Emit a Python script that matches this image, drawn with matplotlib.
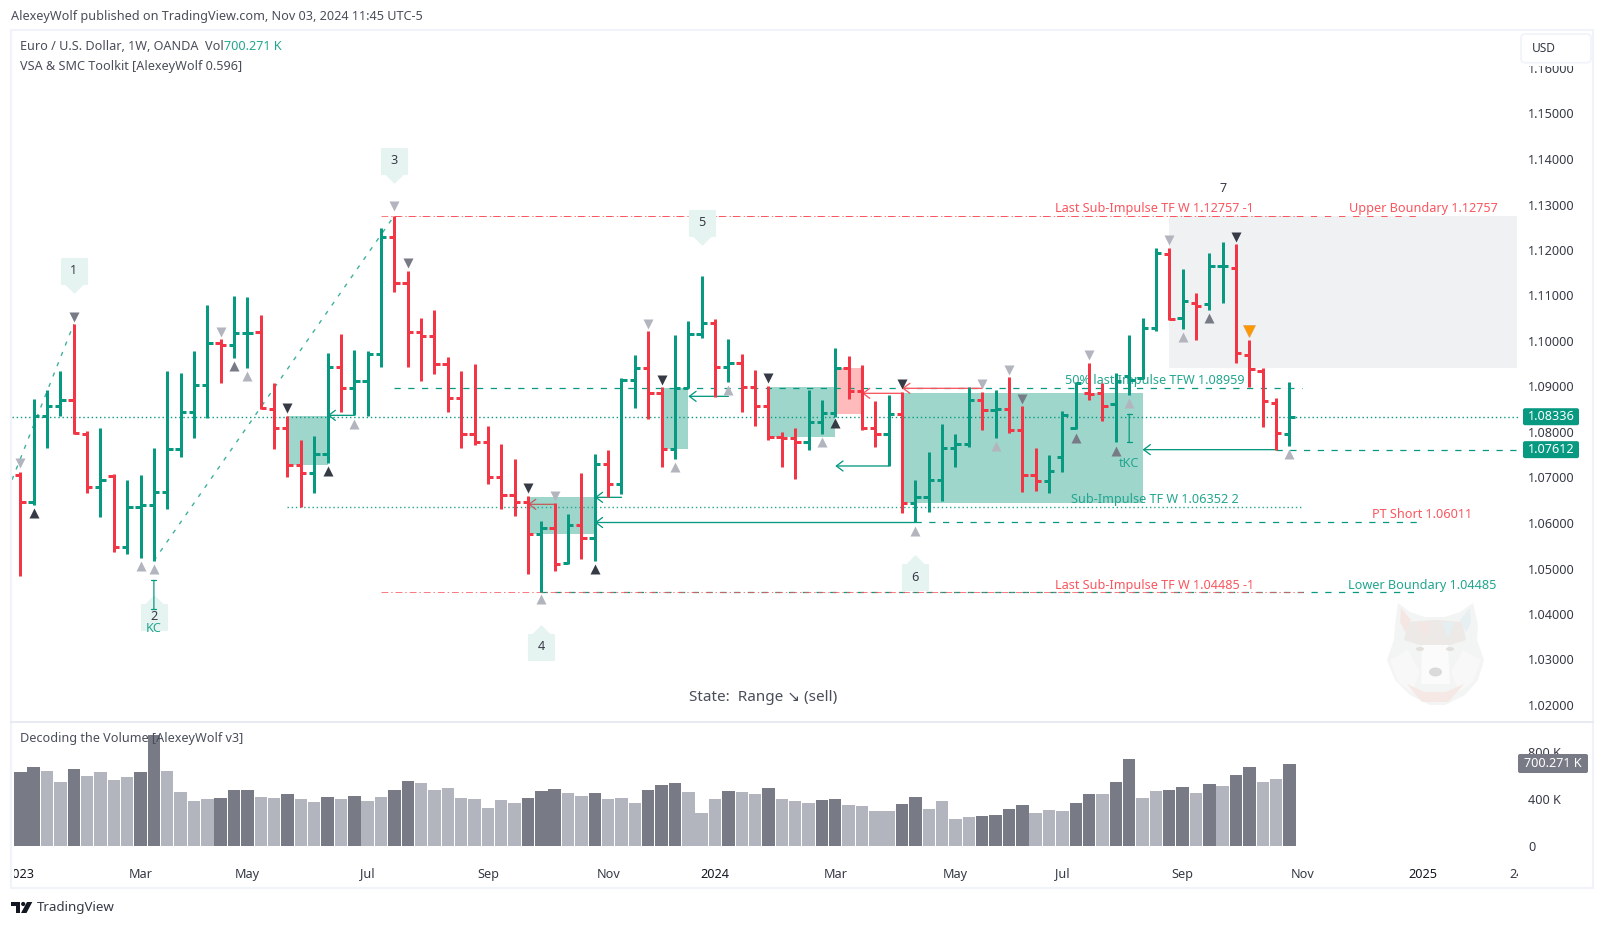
import matplotlib
matplotlib.use('Agg')
import matplotlib.pyplot as plt
from matplotlib.markers import MarkerStyle
from matplotlib.patches import Rectangle, FancyBboxPatch, Polygon, Ellipse, Circle
from matplotlib.path import Path
from matplotlib.transforms import Bbox

plt.rcParams['font.family'] = ['Noto Sans', 'DejaVu Sans']

W, H = 1605, 927
GREEN = '#089981'
RED = '#F23645'
SOFT_GREEN = '#22A68F'
SOFT_RED = '#F9565F'
DARK = '#363A45'
MID = '#787B86'
LIGHT = '#B2B5BE'
FONT = 9.1

# weekly EURUSD bars
opens = [1.07047, 1.06454, 1.08344, 1.08564, 1.08696, 1.07948, 1.06784, 1.07025, 1.05472, 1.06344,
         1.06388, 1.06674, 1.07619, 1.08432, 1.09025, 1.09948, 1.09904, 1.10168, 1.10190, 1.08498,
         1.08080, 1.07267, 1.07091, 1.07516, 1.09421, 1.08959, 1.09113, 1.09707, 1.12278, 1.11267,
         1.10191, 1.10103, 1.09487, 1.08740, 1.07949, 1.07773, 1.07004, 1.06608, 1.06454, 1.05751,
         1.05883, 1.05114, 1.05949, 1.05663, 1.07289, 1.06850, 1.09136, 1.09407, 1.08850, 1.07627,
         1.08960, 1.10147, 1.10388, 1.09421, 1.09509, 1.08982, 1.08564, 1.07883, 1.07861, 1.07773,
         1.08213, 1.08418, 1.09400, 1.08902, 1.08081, 1.07949, 1.08389, 1.06433, 1.06565, 1.06938,
         1.07641, 1.07729, 1.08704, 1.08484, 1.08498, 1.08044, 1.07048, 1.06931, 1.07444, 1.08081,
         1.08865, 1.08865, 1.08608, 1.09231, 1.09180, 1.10279, 1.11920, 1.10499, 1.10828, 1.10806,
         1.11641, 1.11605, 1.09693, 1.09341, 1.08630, 1.07949]
highs = [1.07113, 1.08725, 1.08920, 1.09340, 1.10373, 1.08014, 1.08080, 1.07069, 1.06945, 1.07055,
         1.07641, 1.09340, 1.09296, 1.09780, 1.10791, 1.10036, 1.10989, 1.10967, 1.10571, 1.09076,
         1.08344, 1.07824, 1.07912, 1.09736, 1.10153, 1.09802, 1.09772, 1.12483, 1.12757, 1.11539,
         1.10506, 1.10681, 1.09641, 1.09341, 1.09495, 1.08132, 1.07736, 1.07407, 1.06593, 1.06044,
         1.06440, 1.06198, 1.07089, 1.07517, 1.07605, 1.09187, 1.09692, 1.10220, 1.08989, 1.10132,
         1.10440, 1.11429, 1.10484, 1.10044, 1.09714, 1.09363, 1.09011, 1.08003, 1.08081, 1.08924,
         1.08704, 1.09839, 1.09671, 1.09473, 1.08682, 1.08814, 1.08872, 1.06946, 1.07561, 1.08176,
         1.07957, 1.08989, 1.08880, 1.08924, 1.09209, 1.08572, 1.07649, 1.07495, 1.08455, 1.09099,
         1.09517, 1.09070, 1.09290, 1.10132, 1.10506, 1.12037, 1.12037, 1.11583, 1.11055, 1.11934,
         1.12176, 1.12132, 1.10022, 1.09400, 1.08740, 1.09099]
lows = [1.04842, 1.06395, 1.07655, 1.08344, 1.07956, 1.06666, 1.06139, 1.05370, 1.05326, 1.05238,
        1.05172, 1.06315, 1.07458, 1.07875, 1.08315, 1.09084, 1.09626, 1.09413, 1.08498, 1.07619,
        1.07018, 1.06359, 1.06666, 1.07326, 1.08446, 1.08366, 1.08344, 1.09428, 1.11084, 1.09436,
        1.09121, 1.09282, 1.08447, 1.07656, 1.07714, 1.06865, 1.06315, 1.06161, 1.04886, 1.04485,
        1.04952, 1.05092, 1.05216, 1.05172, 1.06564, 1.06645, 1.08535, 1.08293, 1.07238, 1.07414,
        1.08960, 1.10073, 1.08777, 1.09106, 1.08447, 1.08139, 1.07817, 1.07239, 1.06960, 1.07612,
        1.07964, 1.08338, 1.08733, 1.08037, 1.07678, 1.07246, 1.06228, 1.06011, 1.06250, 1.06491,
        1.07239, 1.07663, 1.08052, 1.07876, 1.07986, 1.06689, 1.06711, 1.06667, 1.07114, 1.08066,
        1.08704, 1.08249, 1.07788, 1.08821, 1.09165, 1.10227, 1.10455, 1.10271, 1.10030, 1.10689,
        1.10835, 1.09524, 1.08997, 1.08118, 1.07612, 1.07700]
closes = [1.06454, 1.08344, 1.08564, 1.08696, 1.07970, 1.06784, 1.06937, 1.05472, 1.06344, 1.06388,
          1.06674, 1.07619, 1.08432, 1.09025, 1.09948, 1.09904, 1.10168, 1.10183, 1.08520, 1.08080,
          1.07267, 1.07091, 1.07516, 1.09421, 1.08959, 1.09113, 1.09707, 1.12278, 1.11267, 1.10191,
          1.10103, 1.09487, 1.08740, 1.07949, 1.07773, 1.07004, 1.06608, 1.06454, 1.05751, 1.05883,
          1.05092, 1.05949, 1.05663, 1.07289, 1.06850, 1.09136, 1.09407, 1.08850, 1.07627, 1.08960,
          1.10147, 1.10388, 1.09421, 1.09509, 1.08982, 1.08564, 1.07883, 1.07861, 1.07773, 1.08213,
          1.08418, 1.09400, 1.08902, 1.08081, 1.07949, 1.08389, 1.06433, 1.06565, 1.06938, 1.07641,
          1.07729, 1.08704, 1.08484, 1.08498, 1.08044, 1.07048, 1.06931, 1.07136, 1.08374, 1.09077,
          1.08835, 1.08565, 1.09121, 1.09150, 1.10286, 1.11934, 1.10477, 1.10872, 1.10762, 1.11641,
          1.11641, 1.09744, 1.09378, 1.08674, 1.07971, 1.08336]

volumes = [630, 672, 638, 545, 655, 596, 630, 562, 587, 630, 945, 638, 460, 383, 400, 409, 477, 477,
           417, 409, 443, 400, 374, 417, 400, 426, 383, 417, 477, 553, 536, 477, 494, 409, 400, 323,
           392, 366, 409, 468, 485, 451, 426, 451, 400, 409, 366, 477, 519, 536, 460, 281, 400, 468,
           460, 443, 494, 400, 383, 366, 392, 400, 349, 340, 298, 298, 357, 417, 315, 383, 230, 247,
           255, 264, 315, 349, 281, 306, 298, 366, 443, 443, 545, 740, 409, 468, 477, 502, 451, 528,
           511, 604, 672, 545, 570, 700.271]
# 1 = dark column, 0 = light column
vol_dark = [1, 1, 0, 0, 1, 0, 0, 0, 0, 1, 1, 0, 0, 0, 0, 1, 1, 1, 0, 0, 1, 0, 0, 1, 0, 1, 0, 0, 1, 1,
            0, 0, 0, 0, 0, 0, 0, 0, 1, 1, 1, 0, 0, 1, 0, 0, 0, 1, 1, 1, 0, 0, 0, 1, 0, 0, 1, 0, 0, 0,
            1, 1, 0, 0, 0, 0, 1, 1, 0, 0, 0, 0, 1, 1, 1, 1, 0, 0, 0, 1, 1, 0, 1, 1, 0, 0, 1, 1, 0, 1,
            0, 1, 1, 0, 0, 1]

price_ticks = [1.02, 1.03, 1.04, 1.05, 1.06, 1.07, 1.08, 1.09, 1.10, 1.11, 1.12, 1.13, 1.14, 1.15, 1.16]
vol_ticks = [0, 400, 800]
vol_tick_labels = ['0', '400 K', '800 K']
date_pos = [0, 9, 17, 26, 35, 44, 52, 61, 70, 78, 87, 96, 105, 112]
date_labels = ['2023', 'Mar', 'May', 'Jul', 'Sep', 'Nov', '2024', 'Mar', 'May', 'Jul', 'Sep', 'Nov', '2025', '24']

# small triangles: bar, price, direction, colour
tri_bar = [0, 4, 15, 16, 17, 20, 23, 25, 28, 1, 9, 10, 29, 38, 40, 39, 43, 47, 48, 49, 53, 56,
           60, 61, 66, 67, 72, 73, 74, 75, 79, 80, 82, 83, 86, 87, 89, 91, 95]
tri_price = [1.07311, 1.10534, 1.10205, 1.09450, 1.09230, 1.08520, 1.07150, 1.08168, 1.12967, 1.06212,
             1.05062, 1.04981, 1.11707, 1.06762, 1.06601, 1.04330, 1.04989, 1.10381, 1.09150, 1.07238,
             1.08923, 1.09180, 1.07773, 1.08198, 1.09063, 1.05832, 1.09048, 1.07700, 1.09370, 1.08733,
             1.07861, 1.09693, 1.07590, 1.08631, 1.12227, 1.10088, 1.10499, 1.12293, 1.07510]
tri_dir = ['v', 'v', 'v', '^', '^', 'v', '^', '^', 'v', '^', '^', '^', 'v', 'v', 'v', '^', '^', 'v', 'v', '^',
           '^', 'v', '^', '^', 'v', '^', 'v', '^', 'v', 'v', '^', 'v', '^', '^', 'v', '^', '^', 'v', '^']
tri_col = [LIGHT, MID, LIGHT, MID, LIGHT, DARK, DARK, LIGHT, LIGHT, DARK, LIGHT, LIGHT, MID, DARK, LIGHT,
           LIGHT, DARK, LIGHT, DARK, LIGHT, LIGHT, DARK, LIGHT, DARK, DARK, LIGHT, LIGHT, LIGHT, LIGHT,
           MID, MID, LIGHT, MID, LIGHT, LIGHT, LIGHT, MID, DARK, LIGHT]

# numbered wave tags
tag_text = ['1', '2', '3', '4', '5', '6']
tag_bar = [4, 10, 28, 39, 51, 67]
tag_price = [1.11545, 1.03945, 1.13963, 1.03275, 1.12601, 1.04813]
tag_dir = ['down', 'up', 'down', 'up', 'down', 'up']

# zones: first bar, last bar, top, bottom
zone_x0 = [20, 38, 48, 56, 66]
zone_x1 = [23, 43, 50, 61, 84]
zone_top = [1.08344, 1.06572, 1.08960, 1.08989, 1.08858]
zone_bot = [1.07274, 1.05758, 1.07634, 1.07898, 1.06447]

# arrows: from bar, to bar, price, colour
arrow_from = [25, 40, 45, 67, 53, 65, 66, 72, 94]
arrow_to = [23, 38, 43, 43, 50, 61, 63, 66, 84]
arrow_price = [1.08366, 1.06410, 1.06564, 1.06011, 1.08784, 1.07253, 1.08850, 1.08960, 1.07612]
arrow_col = [GREEN, '#C0605C', GREEN, GREEN, GREEN, GREEN, '#F9565F', '#F9565F', GREEN]

last_price = 1.08336
low_tag = 1.07612
last_vol = 700.271

# pixel layout of the panes
LEFT, RIGHT = 12, 1520
PRICE_TOP, PRICE_BOT = 31, 721
VOL_TOP, VOL_BOT = 723, 846
X0, BAR_W = 20.3, 13.36
Y115, PX_PER_PRICE = 113.5, 4550.0
VOL_PX = 47 / 400.0


def pane_axes(fig, top, bottom):
    return fig.add_axes([LEFT / W, 1 - bottom / H, (RIGHT - LEFT) / W, (bottom - top) / H])


fig = plt.figure(figsize=(W / 100, H / 100), dpi=100, facecolor='white')

ax = pane_axes(fig, PRICE_TOP, PRICE_BOT)
ax.set_xlim((LEFT - X0) / BAR_W, (RIGHT - X0) / BAR_W)
ax.set_ylim(1.15 - (PRICE_BOT - Y115) / PX_PER_PRICE, 1.15 + (Y115 - PRICE_TOP) / PX_PER_PRICE)

# zones go under everything
ax.add_patch(Rectangle((86, 1.09414), 26, 1.12757 - 1.09414, fc='#F0F1F3', ec='none', zorder=0.5))
for x0, x1, t, b in zip(zone_x0, zone_x1, zone_top, zone_bot):
    ax.add_patch(Rectangle((x0, b), x1 - x0, t - b, fc='#9ED6CC', ec='none', zorder=1))
ax.add_patch(Rectangle((61, 1.08403), 2, 1.09407 - 1.08403, fc='#FFBBBB', ec='none', zorder=1))

dash = (0, (5, 6))
thin_dash = (0, (6.5, 8))
dot = (0, (1, 2))
dashdot = (0, (7, 3, 1.5, 3))

# levels and impulse legs
ax.plot([-0.62, 4], [1.0695, highs[4]], color='#3FB09C', lw=1, ls=(0, (3, 5)), zorder=2)
ax.plot([10, 28], [lows[10], highs[28]], color='#3FB09C', lw=1, ls=(0, (3, 5)), zorder=2)
ax.axhline(last_price, color=GREEN, lw=1, ls=dot, zorder=2)
ax.plot([28, 104.7], [1.12757, 1.12757], color=SOFT_RED, lw=0.7, ls=thin_dash, zorder=2)
ax.plot([27, 96], [1.12757, 1.12757], color=SOFT_RED, lw=0.7, ls=dashdot, alpha=0.8, zorder=2)
ax.plot([39, 104.7], [1.04485, 1.04485], color=GREEN, lw=0.9, ls=dash, zorder=2)
ax.plot([27, 96], [1.04485, 1.04485], color=SOFT_RED, lw=0.7, ls=dashdot, alpha=0.8, zorder=2)
ax.plot([28, 95.9], [1.08959, 1.08959], color=GREEN, lw=0.9, ls=dash, zorder=2)
ax.plot([20, 96], [1.06352, 1.06352], color=SOFT_GREEN, lw=1, ls=dot, zorder=2)
ax.plot([67, 104.8], [1.06011, 1.06011], color=GREEN, lw=0.9, ls=dash, zorder=2)
ax.plot([94, 112.2], [low_tag, low_tag], color=GREEN, lw=0.9, ls=dash, zorder=2)

for start, end, p, col in zip(arrow_from, arrow_to, arrow_price, arrow_col):
    ax.annotate('', xy=(end, p), xytext=(start, p), zorder=2.6,
                arrowprops=dict(arrowstyle='->,head_length=0.48,head_width=0.36', color=col, lw=0.95,
                                shrinkA=0, shrinkB=0))

# wave tags
tag_body = [(-12.5, 12.5), (12.5, 12.5), (12.5, -12.5), (8.5, -12.5), (0, -21), (-8.5, -12.5), (-12.5, -12.5), (-12.5, 12.5)]
tag_down = MarkerStyle(Path(tag_body, closed=True), joinstyle='round')
tag_up = MarkerStyle(Path([(x, -y) for x, y in tag_body], closed=True), joinstyle='round')
for label, b, p, d in zip(tag_text, tag_bar, tag_price, tag_dir):
    ax.plot([b], [p], marker=tag_down if d == 'down' else tag_up, ms=30.2, mfc='#E6F4F1', mec='#E6F4F1',
            mew=1.5, ls='none', zorder=2)
    ax.text(b, p, label, color=DARK, fontsize=FONT, ha='center', va='center', zorder=2.2)

# bars
for i in range(len(closes)):
    prev = closes[i - 1] if i > 0 else opens[0]
    col = GREEN if closes[i] >= prev else RED
    ax.vlines(i, lows[i], highs[i], color=col, lw=2.16, zorder=3)
    ax.hlines(opens[i], i - 0.4, i, color=col, lw=2.16, zorder=3)
    ax.hlines(closes[i], i, i + 0.4, color=col, lw=2.16, zorder=3)

for b, p, d, c in zip(tri_bar, tri_price, tri_dir, tri_col):
    ax.plot([b], [p], marker=d, ms=7, mfc=c, mec='none', ls='none', zorder=4)
ax.plot([92], [1.10220], marker='v', ms=9, mfc='#FF9800', mec='#E0A060', mew=0.5, ls='none', zorder=4)

# key candle brackets
for b, p0, p1, col in [(10, 1.04740, 1.04110, GREEN), (83, 1.08389, 1.07773, GREEN)]:
    ax.annotate('', xy=(b, p0), xytext=(b, p1), zorder=3.5,
                arrowprops=dict(arrowstyle='|-|,widthA=0.18,widthB=0.18', color=col, lw=0.9, shrinkA=0, shrinkB=0))

# chart labels
label_kw = dict(fontsize=FONT, ha='center', va='center', zorder=2.5)
ax.text(84.9, 1.12917, 'Last Sub-Impulse TF W 1.12757 -1', color=SOFT_RED, **label_kw)
ax.text(105, 1.12917, 'Upper Boundary 1.12757', color=SOFT_RED, **label_kw)
ax.text(84.9, 1.09127, '50% last Impulse TFW 1.08959', color=SOFT_GREEN, **label_kw)
ax.text(84.9, 1.06521, 'Sub-Impulse TF W 1.06352 2', color=SOFT_GREEN, **label_kw)
ax.text(104.9, 1.06176, 'PT Short 1.06011', color=SOFT_RED, **label_kw)
ax.text(84.9, 1.04637, 'Last Sub-Impulse TF W 1.04485 -1', color=SOFT_RED, **label_kw)
ax.text(104.9, 1.04637, 'Lower Boundary 1.04485', color=SOFT_GREEN, **label_kw)
ax.text(83, 1.07312, 'tKC', color=SOFT_GREEN, **label_kw)
ax.text(10, 1.03671, 'KC', color=SOFT_GREEN, **label_kw)
ax.text(90, 1.13356, '7', color=DARK, **label_kw)
ax.text(55.6, 1.02175, 'State:  Range ↘ (sell)', color='#4A4E5A', fontsize=11, ha='center', va='center')

ax.yaxis.tick_right()
ax.set_yticks(price_ticks)
ax.set_yticklabels(['%.5f' % p for p in price_ticks])
ax.tick_params(axis='y', length=0, pad=5.8, labelsize=FONT, labelcolor=DARK)
ax.set_xticks([])
for s in ax.spines.values():
    s.set_visible(False)
ax.patch.set_visible(False)

# volume pane
vax = pane_axes(fig, VOL_TOP, VOL_BOT)
vax.set_xlim(ax.get_xlim())
vax.set_ylim(0, (VOL_BOT - VOL_TOP) / VOL_PX)
vax.bar(range(len(volumes)), volumes, width=0.93, color=[MID if d else LIGHT for d in vol_dark], zorder=2)
vax.yaxis.tick_right()
vax.set_yticks(vol_ticks)
vax.set_yticklabels(vol_tick_labels)
vax.tick_params(axis='y', length=0, pad=5.8, labelsize=FONT, labelcolor=DARK)
vax.set_xticks(date_pos)
vax.set_xticklabels(date_labels)
vax.tick_params(axis='x', length=0, pad=15.5, labelsize=FONT, labelcolor=DARK)
clip = Bbox([[13.5, 0], [1518, H]])
for lab in vax.get_xticklabels():
    lab.set_clip_box(clip)
    lab.set_clip_on(True)
    if lab.get_text() in ('2023', '2024', '2025'):
        lab.set_fontweight('bold')
        lab.set_color('#131722')
for s in vax.spines.values():
    s.set_visible(False)
vax.patch.set_visible(False)

# everything fixed to the page sits on a pixel overlay
ov = fig.add_axes([0, 0, 1, 1], zorder=10)
ov.set_xlim(0, W)
ov.set_ylim(H, 0)
ov.axis('off')

ov.add_patch(Rectangle((11, 30), 1582, 858, fc='none', ec='#F0F3FA', lw=1.5))
ov.plot([11, 1593], [721.7, 721.7], color='#E6E8F0', lw=1.3)


def price_y(p):
    return Y115 + (1.15 - p) * PX_PER_PRICE


for p, col in [(last_price, GREEN), (low_tag, GREEN)]:
    y = price_y(p)
    ov.add_patch(FancyBboxPatch((1523, y - 8.5), 56, 17, boxstyle='round,pad=0,rounding_size=2', fc=col, ec='none'))
    ov.text(1551, y, '%.5f' % p, color='white', fontsize=FONT, fontweight='bold', ha='center', va='center')

ov.add_patch(FancyBboxPatch((1518, 754), 70, 19, boxstyle='round,pad=0,rounding_size=2', fc=MID, ec='none'))
ov.text(1553, 763.5, '%.3f K' % last_vol, color='white', fontsize=FONT, fontweight='bold', ha='center', va='center')

# the currency button hides the top half of the highest price label
ov.add_patch(Rectangle((1521, 32), 70, 34, fc='white', ec='none'))
ov.add_patch(FancyBboxPatch((1521, 34), 70, 28.7, boxstyle='round,pad=0,rounding_size=4', fc='white', ec='#F0F3FA', lw=1.2))
ov.text(1531.7, 48.3, 'USD', color=DARK, fontsize=FONT - 0.5, ha='left', va='center')

ov.text(11, 16, 'AlexeyWolf published on TradingView.com, Nov 03, 2024 11:45 UTC-5', color='#4A4E5A',
        fontsize=FONT, ha='left', va='center')
ov.text(20, 46.7, 'Euro / U.S. Dollar, 1W, OANDA  Vol', color='#4A4E5A', fontsize=FONT, ha='left', va='center')
ov.text(224, 46.7, '700.271 K', color=SOFT_GREEN, fontsize=FONT, ha='left', va='center')
ov.text(20, 66, 'VSA & SMC Toolkit [AlexeyWolf 0.596]', color='#4A4E5A', fontsize=FONT, ha='left', va='center')
ov.text(20, 738.7, 'Decoding the Volume [AlexeyWolf v3]', color='#4A4E5A', fontsize=FONT, ha='left', va='center')

# TradingView mark
ov.add_patch(Polygon([(11, 902), (20, 902), (20, 913), (15.5, 913), (15.5, 906), (11, 906)], fc='#131722', ec='none'))
ov.add_patch(Circle((23.2, 904), 2.1, fc='#131722', ec='none'))
ov.add_patch(Polygon([(27, 902), (32.3, 902), (26.5, 913), (21, 913)], fc='#131722', ec='none'))
ov.text(37, 908, 'TradingView', color='#363A45', fontsize=9.6, ha='left', va='center')

# faded wolf watermark
ov.add_patch(Polygon([(1398, 603), (1410, 612), (1425, 617), (1445, 617), (1460, 612), (1473, 603), (1478, 625),
                      (1477, 640), (1484, 660), (1478, 680), (1465, 695), (1445, 705), (1430, 705), (1410, 695),
                      (1395, 680), (1387, 660), (1394, 640), (1395, 625)], fc='#F3F4F4', ec='none'))
ov.add_patch(Polygon([(1401, 608), (1411, 620), (1405, 632), (1400, 622)], fc='#F6E6E3', ec='none'))
ov.add_patch(Polygon([(1470, 608), (1460, 620), (1466, 632), (1471, 622)], fc='#E6F0F3', ec='none'))
ov.add_patch(Polygon([(1408, 622), (1435, 620), (1462, 622), (1466, 640), (1450, 645), (1420, 645), (1404, 640)], fc='#ECE9E6', ec='none'))
ov.add_patch(Polygon([(1418, 622), (1430, 622), (1424, 640)], fc='#F4E6E2', ec='none'))
ov.add_patch(Polygon([(1442, 622), (1455, 622), (1448, 640)], fc='#E5EEF1', ec='none'))
ov.add_patch(Polygon([(1390, 660), (1408, 650), (1420, 672), (1412, 692), (1398, 682)], fc='#F8F8F8', ec='none'))
ov.add_patch(Polygon([(1481, 660), (1463, 650), (1451, 672), (1459, 692), (1473, 682)], fc='#F8F8F8', ec='none'))
ov.add_patch(Polygon([(1422, 645), (1448, 645), (1450, 684), (1421, 684)], fc='#FBFBFB', ec='none'))
ov.add_patch(Polygon([(1407, 684), (1424, 692), (1446, 692), (1464, 684), (1448, 702), (1422, 702)], fc='#F6E8E4', ec='none'))
ov.add_patch(Ellipse((1435.5, 672), 13, 9, fc='#DADADB', ec='none'))
ov.add_patch(Ellipse((1420, 649), 8, 4, fc='#E2E0DC', ec='none'))
ov.add_patch(Ellipse((1450, 649), 8, 4, fc='#E2E0DC', ec='none'))

fig.savefig('out.png', dpi=100)
